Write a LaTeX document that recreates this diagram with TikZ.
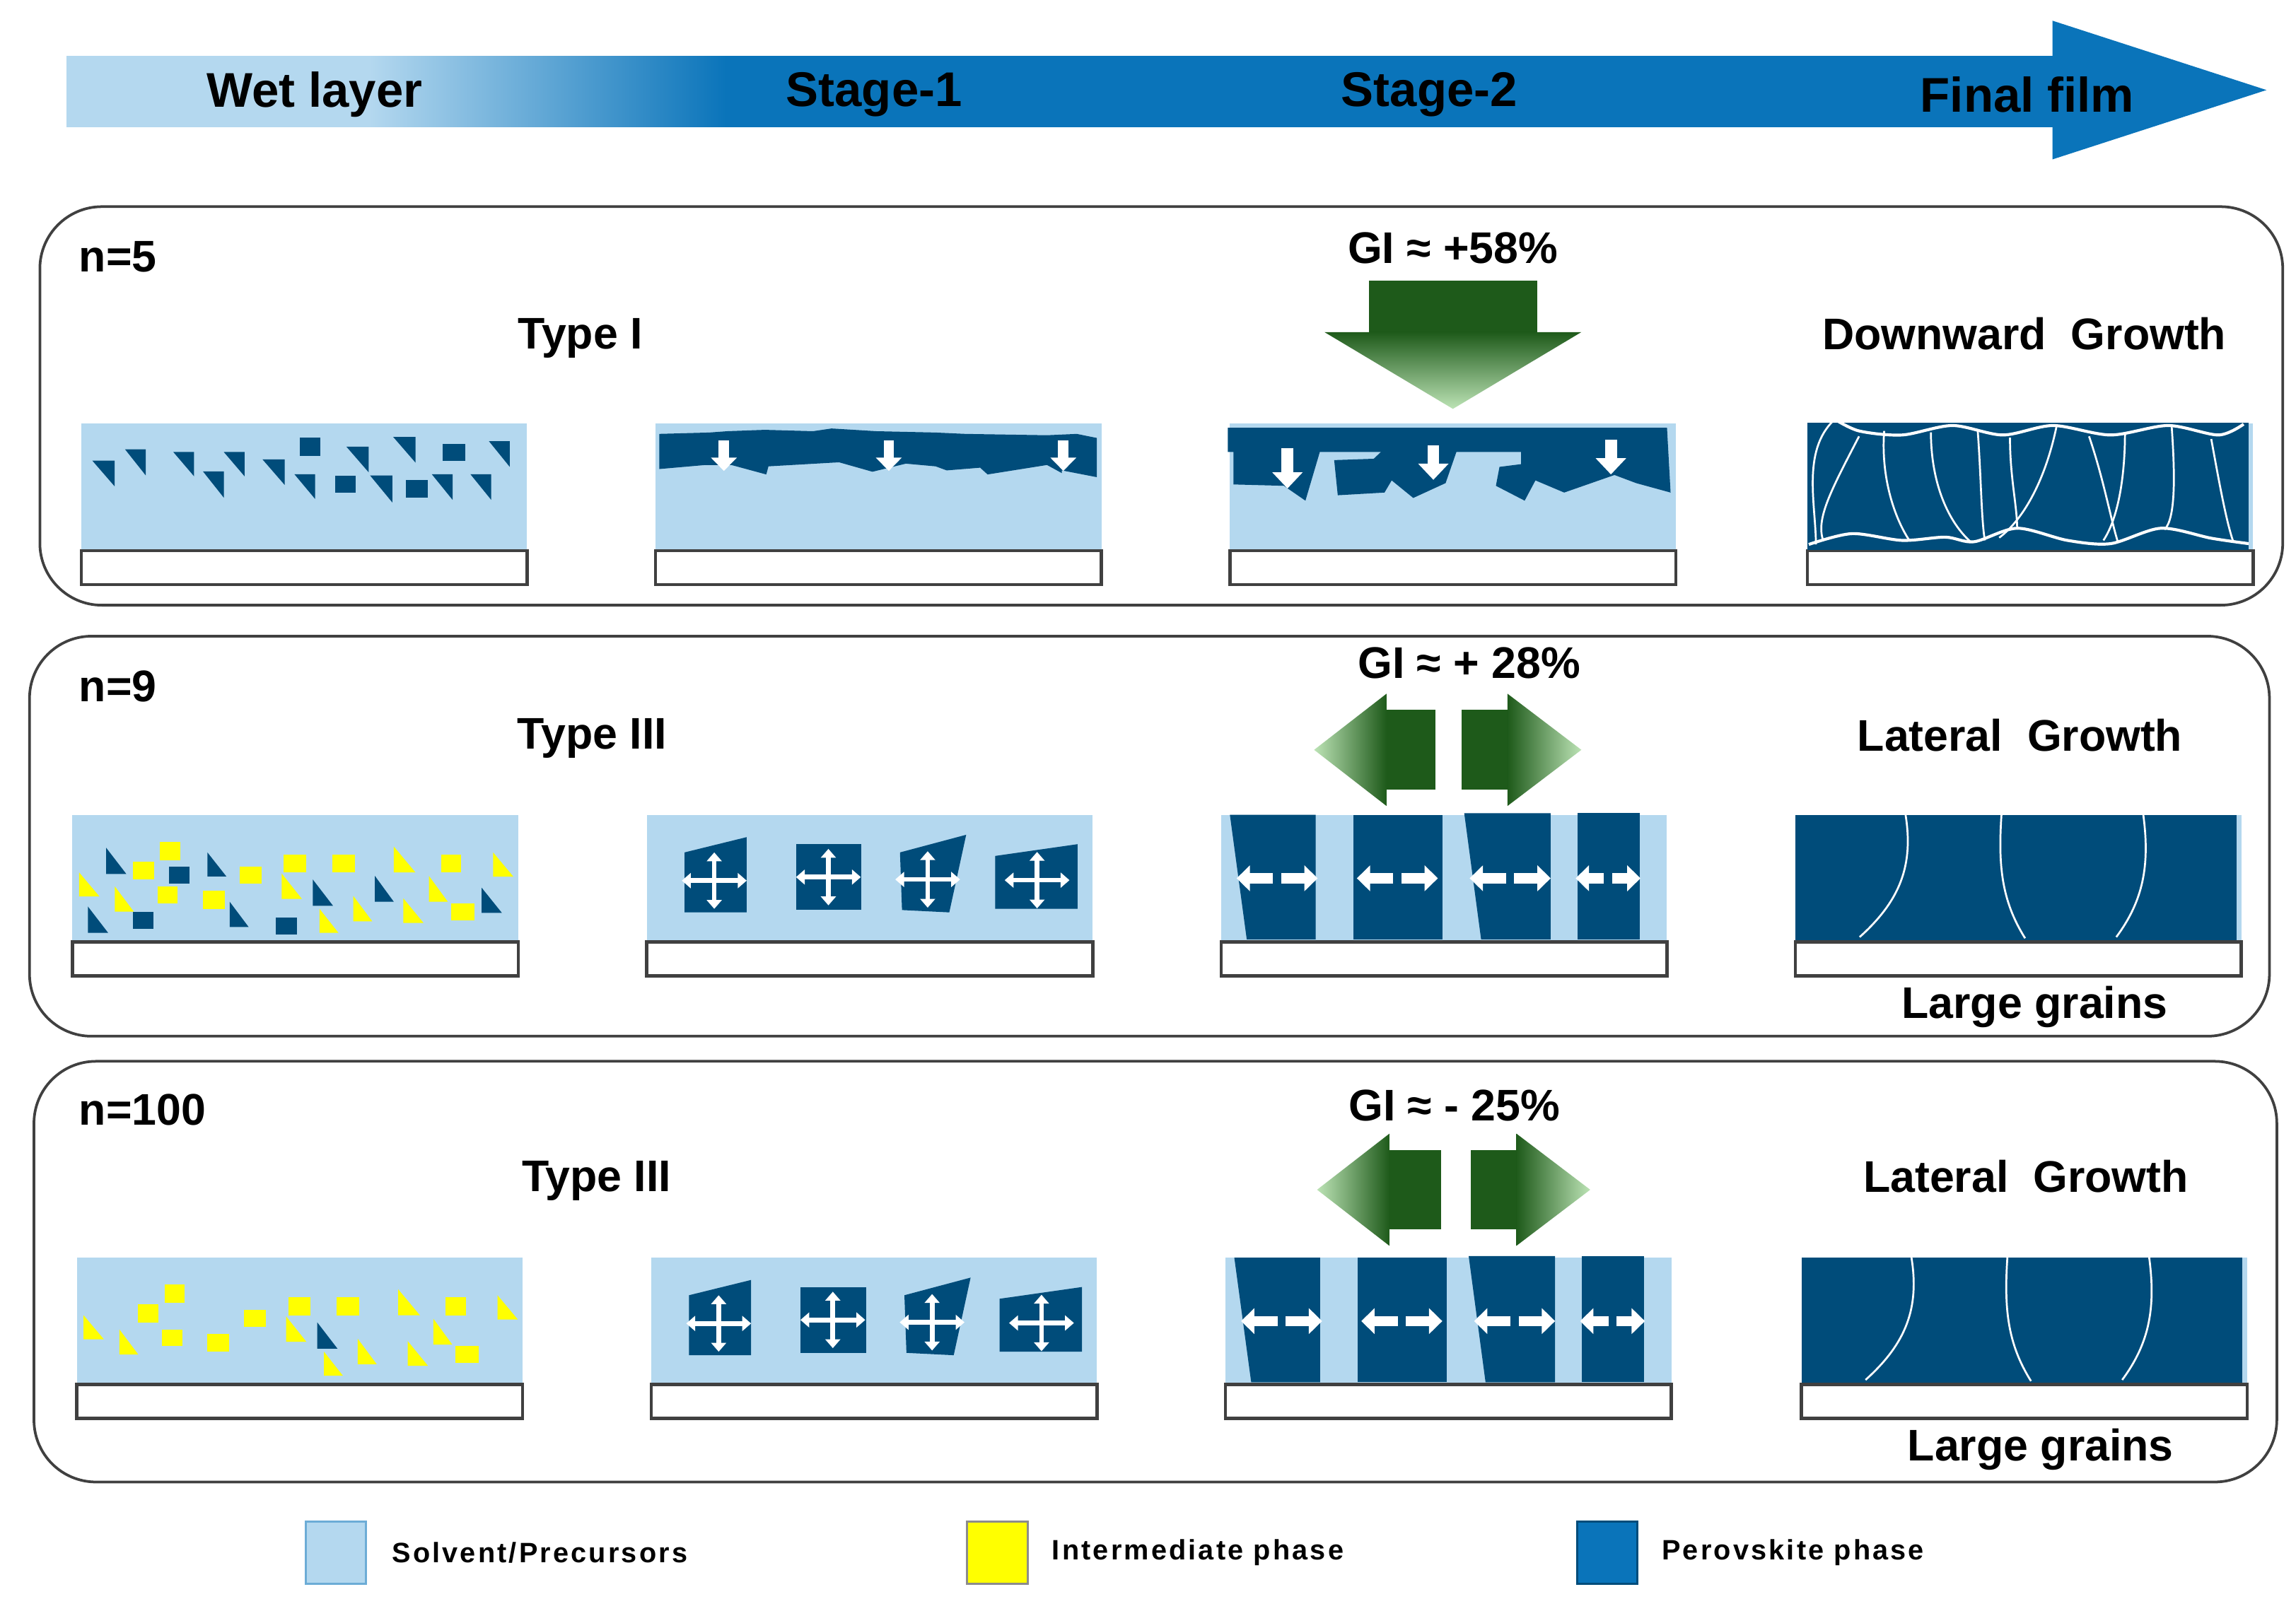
\documentclass[tikz,border=0pt]{standalone}
\usepackage{fontspec}
\setmainfont{Liberation Sans}
\usetikzlibrary{arrows.meta}
\definecolor{lb}{HTML}{B4D8EF}
\definecolor{db}{HTML}{004C7A}
\definecolor{ab}{HTML}{0A74BA}
\definecolor{dg}{HTML}{1E5A1A}
\definecolor{lg}{HTML}{BCE3B5}
\definecolor{yl}{HTML}{FFFF00}
\definecolor{fr}{HTML}{404040}
\begin{document}
\begin{tikzpicture}[x=1pt,y=-1pt,
  panel/.style={draw=fr,line width=1.8pt,rounded corners=42pt},
  sub/.style={draw=fr,fill=white,line width=2.2pt},
  big/.style={font=\bfseries\fontsize{33}{36}\selectfont},
  lab/.style={font=\bfseries\fontsize{30}{34}\selectfont},
  leg/.style={font=\bfseries\fontsize{19}{22}\selectfont\addfontfeature{LetterSpace=8},anchor=west},
  wa/.style={white,line width=3.2pt,-{Triangle[length=6pt,width=10pt]}},
  wd/.style={white,line width=7pt,-{Triangle[length=9pt,width=17pt]}},
  da/.style={white,line width=8pt,-{Triangle[length=11pt,width=20pt]}},
  ln/.style={white,line width=1.3pt}]
\useasboundingbox (0,0) rectangle (1555,1083);
% ---- top arrow
\fill[ab] (250,38) rectangle (1392,86);
\fill[ab] (1390,14) -- (1535,61) -- (1390,108) -- cycle;
\fill[lb] (45,38) rectangle (251,86);
\shade[left color=lb,right color=ab] (250,38) rectangle (492,86);
\node[big] (t1) at (213,64) {Wet layer};
\node[big] (t2) at (592,64) {Stage-1};
\node[big] (t3) at (968,64) {Stage-2};
\node[big] (t4) at (1373,64) {Final film};
% ---- panels
\draw[panel] (27,140) rectangle (1546,410);
\draw[panel] (20,431) rectangle (1537,702);
\draw[panel] (23,719) rectangle (1542,1004);
\node[lab,anchor=west] (n1) at (50,174) {n=5};
\node[lab,anchor=west] (n2) at (50,465) {n=9};
\node[lab,anchor=west] (n3) at (50,752) {n=100};
\node[lab] (ty1) at (393,229) {Type I};
\node[lab] (ty2) at (401,500) {Type III};
\node[lab] (ty3) at (404,800) {Type III};
\node[lab] (g1) at (984,168) {GI ≈ +58\%};
\node[lab] (g2) at (995,449) {GI ≈ + 28\%};
\node[lab] (g3) at (985,749) {GI ≈ - 25\%};
\node[lab] (d1) at (1371,226) {Downward\ \ Growth};
\node[lab] (l2) at (1368,498) {Lateral\ \ Growth};
\node[lab] (l3) at (1372,797) {Lateral\ \ Growth};
\node[lab] (lg2) at (1378,682) {Large grains};
\node[lab] (lg3) at (1382,982) {Large grains};
% ---- green arrows
\fill[dg] (927,190) rectangle (1041,226);
\shade[top color=dg,bottom color=lg] (897,225) -- (1071,225) -- (984,277) -- cycle;
\foreach \yc/\a/\b/\c/\d/\h in {508/938/972/990/1022/27, 806/940/976/996/1028/27}{
  \fill[dg] (\a,\yc-\h) rectangle (\b,\yc+\h);
  \fill[dg] (\c,\yc-\h) rectangle (\d,\yc+\h);
  \shade[left color=lg,right color=dg] (\a+1,\yc-38) -- (\a-48,\yc) -- (\a+1,\yc+38) -- cycle;
  \shade[left color=dg,right color=lg] (\d-1,\yc-38) -- (\d+49,\yc) -- (\d-1,\yc+38) -- cycle;
}
% ---- boxes
\foreach \bx/\by in {55/287,444/287,833/287,1224/287,49/552,438/552,827/552,1216/552,52/852,441/852,830/852,1220/852}{
  \fill[lb] (\bx,\by) rectangle ++(302,86);
  \draw[sub] (\bx,\by+86) rectangle ++(302,23);
}
% panel 1 wet
\begin{scope}[shift={(55,287)},xscale=0.503,yscale=0.1831,shift={(-108,-893)}]
\foreach \x/\y/\w/\h in {123/1030/30/95,167/988/28/97,232/998/28/90,272/1070/28/97,300/998/28/90,352/1025/30/95,395/1080/28/92,465/978/30/95,497/1085/30/100,528/942/30/95,580/1080/28/95,632/1080/28/95,657/958/28/95}
  \fill[db] (\x,\y) -- ++(\w,0) -- ++(0,\h) -- cycle;
\foreach \a/\b/\c/\d in {402/945/430/1012,450/1085/478/1148,545/1102/575/1168,595/968/625/1032}
  \fill[db] (\a,\b) rectangle (\c,\d);
\end{scope}
% panel 1 stage 1
\begin{scope}[shift={(444,287)},xscale=0.503,yscale=0.1831,shift={(-873,-887)}]
\fill[db] (878,925) -- (945,920) -- (970,915) -- (1020,910) -- (1085,915) -- (1110,905) -- (1170,915) -- (1250,920) -- (1290,925) -- (1400,930) -- (1440,925) -- (1467,940) -- (1467,1085) -- (1420,1060) -- (1420,1070) -- (1400,1040) -- (1320,1075) -- (1310,1050) -- (1265,1060) -- (1250,1045) -- (1210,1035) -- (1165,1065) -- (1120,1030) -- (1025,1045) -- (1022,1075) -- (975,1040) -- (940,1040) -- (878,1055) -- cycle;
\foreach \x in {965,1187,1422} \draw[wd] (\x,950) -- (\x,1062);
\end{scope}
% panel 1 stage 2
\begin{scope}[shift={(833,287)},xscale=0.4868,yscale=0.1831,shift={(-75,-910)}]
\fill[db] (72,925) -- (683,925) -- (688,1165) -- (640,1130) -- (610,1100) -- (540,1165) -- (500,1120) -- (485,1195) -- (445,1140) -- (450,1070) -- (480,1060) -- (480,1015) -- (390,1015) -- (375,1130) -- (330,1185) -- (300,1120) -- (290,1165) -- (225,1175) -- (220,1045) -- (275,1040) -- (285,1015) -- (200,1015) -- (180,1195) -- (150,1140) -- (80,1135) -- (80,1015) -- (72,1015) -- cycle;
\draw[da] (155,1000) -- (155,1150);
\draw[da] (358,990) -- (358,1118);
\draw[da] (605,970) -- (605,1098);
\end{scope}
% panel 1 final
\begin{scope}[shift={(1224,287)},xscale=0.4868,yscale=0.1831,shift={(-868,-898)}]
\fill[db] (868,895) rectangle (1482,1365);
\draw[ln,line width=2pt] plot[smooth] coordinates {(905,880) (940,925) (1000,940) (1070,905) (1140,940) (1210,905) (1290,940) (1370,905) (1440,940) (1475,900)};
\draw[ln,line width=2pt] plot[smooth] coordinates {(870,1345) (930,1305) (1000,1330) (1060,1318) (1100,1335) (1160,1285) (1230,1330) (1290,1342) (1360,1285) (1430,1322) (1482,1342)};
\draw[ln] (905,885) .. controls (860,1000) and (880,1200) .. (880,1345);
\draw[ln] (940,945) .. controls (900,1150) and (880,1250) .. (890,1330);
\draw[ln] (975,925) .. controls (970,1100) and (990,1250) .. (1010,1330);
\draw[ln] (1040,930) .. controls (1040,1100) and (1060,1250) .. (1095,1335);
\draw[ln] (1105,920) .. controls (1110,1100) and (1110,1250) .. (1115,1330);
\draw[ln] (1150,950) .. controls (1150,1100) and (1160,1200) .. (1160,1290);
\draw[ln] (1215,905) .. controls (1200,1100) and (1170,1250) .. (1135,1320);
\draw[ln] (1260,945) .. controls (1280,1100) and (1290,1250) .. (1300,1335);
\draw[ln] (1310,930) .. controls (1310,1100) and (1300,1250) .. (1280,1330);
\draw[ln] (1375,910) .. controls (1380,1100) and (1380,1250) .. (1365,1290);
\draw[ln] (1430,955) .. controls (1440,1100) and (1450,1250) .. (1460,1330);
\end{scope}
% panel 2 & 3 wet
\foreach \bx/\by/\full in {49/552/1,52/852/0}{
\begin{scope}[shift={(\bx,\by)},xscale=0.4574,yscale=0.1593,shift={(-22,-45)}]
\foreach \x/\t/\w/\b in {32/290/30/392,85/350/28/457,332/295/30/403,498/180/32/290,550/305/28/415,645/205/30/308,438/390/28/498,512/400/30/505,388/445/28/547}
  \fill[yl] (\x,\t) -- (\x,\b) -- ++(\w,0) -- cycle;
\foreach \a/\b/\c/\d in {152/160/182/237,112/243/143/320,148/350/178/422,215/368/248/445,270/267/302/338,335/213/368/290,407/213/440/290,568/213/598/290,583/422/617/493}
  \fill[yl] (\a,\b) rectangle (\c,\d);
\fill[db] (378,320) -- (378,432) -- ++(30,0) -- cycle;
\ifnum\full=1
\foreach \x/\t/\w/\b in {72/185/30/297,222/205/28/307,45/435/30/547,255/415/28/522,470/305/28/415,628/355/30/462}
  \fill[db] (\x,\t) -- (\x,\b) -- ++(\w,0) -- cycle;
\foreach \a/\b/\c/\d in {165/265/195/338,112/457/142/530,323/482/355/553}
  \fill[db] (\a,\b) rectangle (\c,\d);
\fi
\end{scope}}
% panel 2 & 3 stage 1
\foreach \bx/\by in {438/552,441/852}{
\begin{scope}[shift={(\bx,\by)},xscale=0.4574,yscale=0.1593,shift={(-862,-40)}]
\fill[db] (918,200) -- (1010,135) -- (1010,455) -- (918,455) -- cycle;
\fill[db] (1083,165) rectangle (1180,445);
\fill[db] (1237,200) -- (1335,125) -- (1310,455) -- (1240,445) -- cycle;
\fill[db] (1378,215) -- (1500,165) -- (1500,440) -- (1378,440) -- cycle;
\foreach \cx/\cy in {962/320,1131/305,1278/315,1440/318}{
  \draw[wa] (\cx,\cy) -- (\cx,\cy-120);
  \draw[wa] (\cx,\cy) -- (\cx,\cy+120);
  \draw[wa] (\cx,\cy) -- (\cx-48,\cy);
  \draw[wa] (\cx,\cy) -- (\cx+48,\cy);}
\end{scope}}
% panel 2 & 3 stage 2 and final
\foreach \sx/\sy/\fx in {827/552/1216,830/852/1220}{
\begin{scope}[shift={(\sx,\sy)},xscale=0.4574,yscale=0.1593,shift={(-12,-35)}]
\fill[db] (25,35) -- (152,35) -- (152,565) -- (50,565) -- cycle;
\fill[db] (208,35) rectangle (340,565);
\fill[db] (372,28) -- (500,28) -- (500,565) -- (397,565) -- cycle;
\fill[db] (540,28) rectangle (632,565);
\foreach \cx/\hw in {95/40,273/40,440/40,585/28}{
  \draw[wd] (\cx-6,305) -- (\cx-\hw-20,305);
  \draw[wd] (\cx+6,305) -- (\cx+\hw+20,305);}
\end{scope}
\begin{scope}[shift={(\fx,\sy)},xscale=0.4574,yscale=0.1593,shift={(-855,-35)}]
\fill[db] (855,35) rectangle (1508,568);
\draw[ln] (1018,35) .. controls (1030,250) and (1010,400) .. (950,555);
\draw[ln] (1160,35) .. controls (1155,250) and (1160,400) .. (1195,560);
\draw[ln] (1370,35) .. controls (1380,250) and (1370,400) .. (1330,555);
\end{scope}}
% ---- legend
\draw[fill=lb,draw=ab!60,line width=1.5pt] (207,1031) rectangle (248,1073);
\node[leg] (s1) at (262,1052) {Solvent/Precursors};
\draw[fill=yl,draw=fr!60,line width=1.5pt] (655,1031) rectangle (696,1073);
\node[leg] (s2) at (709,1052) {Intermediate phase};
\draw[fill=ab,draw=db,line width=1.5pt] (1068,1031) rectangle (1109,1073);
\node[leg] (s3) at (1122,1052) {Perovskite phase};
\end{tikzpicture}
\end{document}
